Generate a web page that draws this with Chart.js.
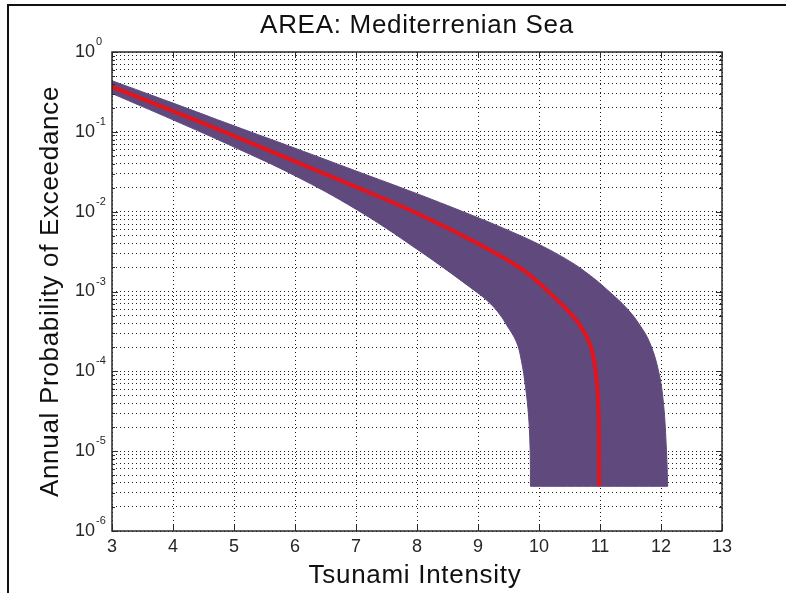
<!DOCTYPE html>
<html>
<head>
<meta charset="utf-8">
<title>AREA: Mediterrenian Sea</title>
<script src="https://cdn.jsdelivr.net/npm/chart.js@4.4.1/dist/chart.umd.min.js"></script>
<style>
  html, body { margin: 0; padding: 0; background: #ffffff; }
  #wrap { position: relative; width: 786px; height: 593px; overflow: hidden; }
  #chart { position: absolute; left: 0; top: 0; }
</style>
</head>
<body>
<div id="wrap"><canvas id="chart" width="786" height="593"></canvas></div>
<script>
// ---- text ----
const chartTitle = 'AREA: Mediterrenian Sea';
const xAxisTitle = 'Tsunami Intensity';
const yAxisTitle = 'Annual Probability of Exceedance';

// ---- axes ----
const xTicks = [3, 4, 5, 6, 7, 8, 9, 10, 11, 12, 13];
const yDecades = [-6, -5, -4, -3, -2, -1, 0];
const yMinorSteps = [2, 3, 4, 5, 6, 7, 8, 9];

// ---- hazard curves: intensity vs annual probability of exceedance ----
// upper bound of the uncertainty band
const upperIntensity = [3, 4, 5, 6, 7, 8, 9, 9.5, 10, 10.5, 10.84, 11.15, 11.45, 11.66, 11.82, 11.96, 12.04, 12.09, 12.11];
const upperProb = [0.4365, 0.2291, 0.1189, 0.06237, 0.03236, 0.01679, 0.00841, 0.00582, 0.00389, 0.0024, 0.001585, 0.001, 6.03e-4, 3.72e-4, 2.24e-4, 1.0e-4, 3.98e-5, 1.0e-5, 3.63e-6];

// median curve
const medianIntensity = [3, 4, 5, 6, 7, 8, 9, 9.74, 10, 10.23, 10.45, 10.67, 10.84, 10.93, 10.975, 10.985];
const medianProb = [0.3673, 0.182, 0.0891, 0.04266, 0.02042, 0.00955, 0.00398, 0.001862, 0.001274, 8.75e-4, 6.03e-4, 3.80e-4, 2.14e-4, 9.77e-5, 3.27e-5, 3.63e-6];

// lower bound of the uncertainty band
const lowerIntensity = [3, 4, 5, 6, 7, 8, 9, 9.2, 9.36, 9.47, 9.63, 9.71, 9.78, 9.83, 9.855, 9.86];
const lowerProb = [0.302, 0.1413, 0.06457, 0.02818, 0.01072, 0.00339, 9.55e-4, 7.08e-4, 5.13e-4, 3.80e-4, 2.34e-4, 1.38e-4, 6.31e-5, 2.69e-5, 1.0e-5, 3.63e-6];

// ---- styling ----
const FONT = '"Liberation Sans", Arial, Helvetica, sans-serif';
const BAND_COLOR = '#5f497d';
const MEDIAN_COLOR = '#e3141c';
const GRID_COLOR = '#1e1e1e';
const AXIS_COLOR = '#2a2a2a';
const TEXT_COLOR = '#111111';
const TICK_TEXT_COLOR = '#262626';

// ---- derived structures ----
const toPoints = (xs, ys) => xs.map((x, i) => ({ x: x, y: ys[i] }));
const upperPts = toPoints(upperIntensity, upperProb);
const lowerPts = toPoints(lowerIntensity, lowerProb);
const medianPts = toPoints(medianIntensity, medianProb);

// closed outline of the band: along the upper bound, across the floor, back along the lower bound.
// corner points are doubled so the smoothed outline keeps sharp corners.
const bandPts = [
  ...upperPts,
  upperPts[upperPts.length - 1],
  lowerPts[lowerPts.length - 1],
  ...lowerPts.slice().reverse()
];

const yTickValues = [];
yDecades.forEach(e => {
  const base = Math.pow(10, e);
  yTickValues.push(base);
  if (e < 0) yMinorSteps.forEach(m => yTickValues.push(Number((m * base).toPrecision(3))));
});

const isDecade = v => Math.abs(Math.log10(v) - Math.round(Math.log10(v))) < 1e-9;

// frame, inward tick marks, boxed axes, superscript tick labels and titles
const matlabStyle = {
  id: 'matlabStyle',
  beforeDraw(chart) {
    const ctx = chart.ctx;
    ctx.save();
    ctx.fillStyle = '#ffffff';
    ctx.fillRect(0, 0, chart.width, chart.height);
    ctx.fillStyle = '#111111';
    ctx.fillRect(7, 4, chart.width - 7, 2);
    ctx.fillRect(7, 4, 2, chart.height - 4);
    ctx.restore();
  },
  afterDatasetsDraw(chart) {
    const { ctx, chartArea: a, scales } = chart;
    const xs = scales.x, ys = scales.y;
    ctx.save();

    // tick marks pointing into the plot on all four sides
    ctx.strokeStyle = AXIS_COLOR;
    ctx.lineWidth = 1;
    ctx.beginPath();
    xs.ticks.forEach(t => {
      const px = Math.round(xs.getPixelForValue(t.value)) + 0.5;
      ctx.moveTo(px, a.bottom); ctx.lineTo(px, a.bottom - 6);
      ctx.moveTo(px, a.top); ctx.lineTo(px, a.top + 6);
    });
    ys.ticks.forEach(t => {
      const py = Math.round(ys.getPixelForValue(t.value)) + 0.5;
      const len = isDecade(t.value) ? 6 : 3;
      ctx.moveTo(a.left, py); ctx.lineTo(a.left + len, py);
      ctx.moveTo(a.right, py); ctx.lineTo(a.right - len, py);
    });
    ctx.stroke();

    // axes box
    ctx.lineWidth = 1.5;
    ctx.strokeRect(a.left, a.top, a.right - a.left, a.bottom - a.top);

    // decade labels 10^k
    ctx.fillStyle = TICK_TEXT_COLOR;
    yDecades.forEach(e => {
      const py = ys.getPixelForValue(Math.pow(10, e));
      ctx.font = '18px ' + FONT;
      ctx.textAlign = 'right';
      ctx.textBaseline = 'middle';
      ctx.fillText('10', a.left - 17, py);
      ctx.font = '11px ' + FONT;
      ctx.textAlign = 'left';
      ctx.textBaseline = 'alphabetic';
      ctx.fillText(String(e), a.left - 16, py - 7);
    });
    ctx.restore();
  },
  afterDraw(chart) {
    const { ctx, chartArea: a } = chart;
    const cx = (a.left + a.right) / 2;
    const cy = (a.top + a.bottom) / 2;
    ctx.save();
    ctx.fillStyle = TEXT_COLOR;
    ctx.font = '26px ' + FONT;
    if ('letterSpacing' in ctx) ctx.letterSpacing = '0.7px';
    ctx.textAlign = 'center';
    ctx.textBaseline = 'alphabetic';
    ctx.fillText(chartTitle, cx, 33);
    ctx.fillText(xAxisTitle, cx - 2, 583);
    ctx.translate(58, cy);
    ctx.rotate(-Math.PI / 2);
    ctx.fillText(yAxisTitle, 0, 0);
    ctx.restore();
  }
};

new Chart(document.getElementById('chart').getContext('2d'), {
  type: 'line',
  data: {
    datasets: [
      {
        label: 'Median',
        data: medianPts,
        borderColor: MEDIAN_COLOR,
        borderWidth: 4,
        borderCapStyle: 'butt',
        pointRadius: 0,
        tension: 0.4,
        fill: false
      },
      {
        label: 'Uncertainty band',
        data: bandPts,
        borderColor: BAND_COLOR,
        borderWidth: 1,
        backgroundColor: BAND_COLOR,
        pointRadius: 0,
        tension: 0.4,
        fill: 'shape'
      }
    ]
  },
  options: {
    responsive: false,
    animation: false,
    devicePixelRatio: 1,
    events: [],
    layout: { padding: { top: 52, right: 64, left: 0, bottom: 0 } },
    plugins: {
      legend: { display: false },
      tooltip: { enabled: false },
      title: { display: false }
    },
    scales: {
      x: {
        type: 'linear',
        min: 3,
        max: 13,
        afterBuildTicks: s => { s.ticks = xTicks.map(v => ({ value: v })); },
        afterFit: s => { s.height = 62; },
        grid: { color: GRID_COLOR, lineWidth: 1, drawTicks: false },
        border: { display: false, dash: [1, 3] },
        ticks: {
          color: TICK_TEXT_COLOR,
          font: { family: FONT, size: 18 },
          padding: 5,
          maxRotation: 0,
          autoSkip: false,
          callback: v => String(v)
        }
      },
      y: {
        type: 'logarithmic',
        min: 1e-6,
        max: 1,
        afterBuildTicks: s => { s.ticks = yTickValues.map(v => ({ value: v })); },
        afterFit: s => { s.width = 112; },
        grid: { color: GRID_COLOR, lineWidth: 1, drawTicks: false },
        border: { display: false, dash: [1, 3] },
        ticks: { display: false }
      }
    }
  },
  plugins: [matlabStyle]
});
</script>
</body>
</html>
